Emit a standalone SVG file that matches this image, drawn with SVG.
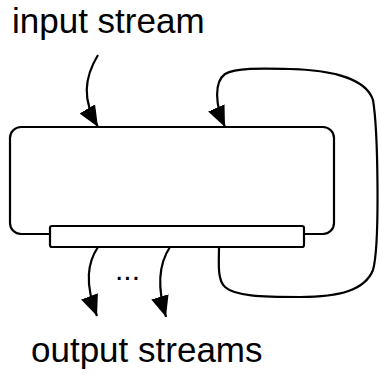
<svg xmlns="http://www.w3.org/2000/svg" width="379" height="374" viewBox="0 0 379 374">
  <style>
    .label { font-family: "Liberation Sans", Arial, sans-serif; font-size: 35px; fill: #000; }
    .box { fill: #fff; stroke: #000; stroke-width: 2.2; }
    .edge { fill: none; stroke: #000; stroke-width: 2.2; marker-end: url(#head); }
  </style>
  <defs>
    <marker id="head" markerUnits="userSpaceOnUse" markerWidth="22" markerHeight="22" viewBox="0 0 22 22" refX="21" refY="11" orient="auto">
      <path d="M0 2 L21 11 L0 20 Z" fill="#000"/>
    </marker>
  </defs>

  <text class="label" x="12" y="33">input stream</text>
  <text class="label" x="31" y="362">output streams</text>

  <g id="processor">
    <rect class="box" x="10" y="127" width="324" height="107" rx="11"/>
  </g>
  <g id="output-bar">
    <rect class="box" x="50" y="226" width="254" height="21" rx="2"/>
  </g>

  <g id="connectors">
    <path class="edge" d="M98 55 C84 78, 82 100, 98 127"/>
    <path class="edge" d="M219 247 C219 262, 217 280, 225 287 C235 296, 260 297, 300 297 C340 297, 365 290, 373 270 C380 245, 378 130, 373 100 C366 78, 330 70, 290 69 C260 68, 235 68, 225 74 C214 82, 215 105, 225 127"/>
    <path class="edge" d="M98 247 C88 262, 84 282, 97 316"/>
    <path class="edge" d="M170 247 C160 262, 156 284, 166 317"/>
    <text class="label" x="115" y="280" style="font-size:30px">...</text>
  </g>
</svg>
